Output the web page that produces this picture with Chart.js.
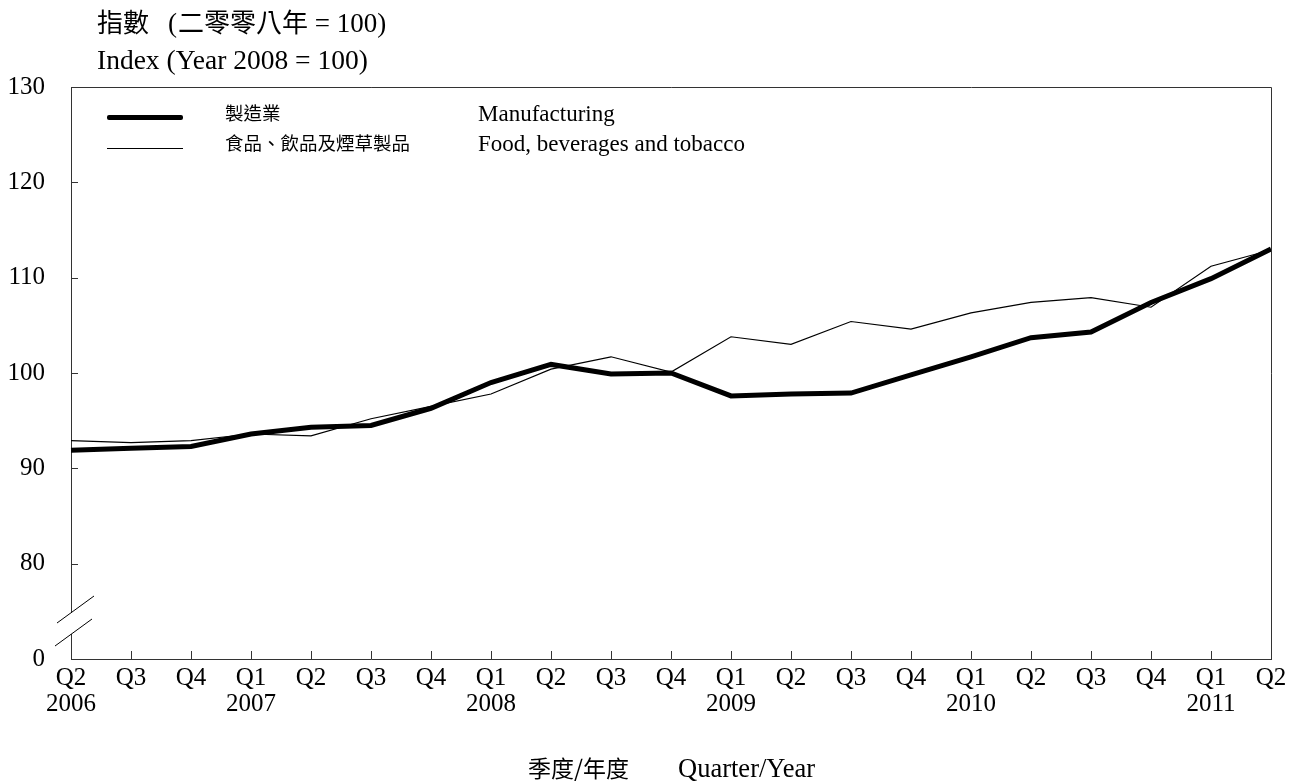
<!DOCTYPE html>
<html>
<head>
<meta charset="utf-8">
<script src="https://cdn.jsdelivr.net/npm/chart.js@4.4.1/dist/chart.umd.min.js"></script>
<style>
  html, body { margin: 0; padding: 0; background: #fff; }
  #wrap { position: relative; width: 1299px; height: 783px; }
  canvas { position: absolute; left: 0; top: 0; }
  .t { position: absolute; white-space: nowrap; color: #000; line-height: 1; }
  .serif { font-family: "Liberation Serif", "DejaVu Serif", serif; }
  .cjk { font-family: "Noto Sans CJK TC", "Noto Sans CJK SC", sans-serif; }
  .swatch { position: absolute; background: #000; }
</style>
</head>
<body>
<div id="wrap">
  <canvas id="chart" width="1299" height="783"></canvas>
  <div class="t" style="left:97px; top:8px; font-size:27px;"><span class="cjk" style="font-size:26px;">指數</span><span class="serif" style="margin-left:19px;">(</span><span class="cjk" style="font-size:26px; margin-left:1px;">二零零八年</span><span class="serif"> = 100)</span></div>
  <div class="t serif" style="left:97px; top:46px; font-size:27.5px;">Index (Year 2008 = 100)</div>

  <div class="swatch" style="left:107px; top:115px; width:76px; height:5px; border-radius:2px;"></div>
  <div class="swatch" style="left:107px; top:148px; width:76px; height:1px;"></div>
  <div class="t cjk" style="left:225px; top:103px; font-size:18.5px;">製造業</div>
  <div class="t cjk" style="left:225px; top:133px; font-size:18.5px;">食品、飲品及煙草製品</div>
  <div class="t serif" style="left:478px; top:102px; font-size:23px;">Manufacturing</div>
  <div class="t serif" style="left:478px; top:132px; font-size:23px;">Food, beverages and tobacco</div>

  <div class="t" style="left:528px; top:755px; font-size:26.5px;"><span class="cjk" style="font-size:23px;">季度/年度</span><span class="serif" style="margin-left:49px;">Quarter/Year</span></div>
</div>
<script>
// quarters Q2 2006 .. Q2 2011
const quarters = ['Q2','Q3','Q4','Q1','Q2','Q3','Q4','Q1','Q2','Q3','Q4','Q1','Q2','Q3','Q4','Q1','Q2','Q3','Q4','Q1','Q2'];
const years    = ['2006','','','2007','','','','2008','','','','2009','','','','2010','','','','2011',''];

const manufacturing = [91.9, 92.1, 92.3, 93.6, 94.3, 94.5, 96.3, 99.0, 100.9, 99.9, 100.0,
                       97.6, 97.8, 97.9, 99.8, 101.7, 103.7, 104.3, 107.4, 109.9, 113.0];
const foodBevTobacco = [92.9, 92.7, 92.9, 93.6, 93.4, 95.2, 96.5, 97.8, 100.4, 101.7, 100.1,
                        103.8, 103.0, 105.4, 104.6, 106.3, 107.4, 107.9, 106.9, 111.2, 112.9];

const yMin = 70, yMax = 130, yStep = 10;

const labels = quarters.map((q, i) => years[i] ? [q, years[i]] : q);

const axisColor = '#333';

// frame, inward tick marks and the y-axis break
const decorations = {
  id: 'decorations',
  afterDraw(chart) {
    const { ctx, chartArea: a, scales: { x, y } } = chart;
    ctx.save();
    ctx.strokeStyle = axisColor;
    ctx.lineWidth = 1;
    // top and right frame
    ctx.beginPath();
    ctx.moveTo(a.left, a.top + 0.5);
    ctx.lineTo(a.right + 0.5, a.top + 0.5);
    ctx.lineTo(a.right + 0.5, a.bottom);
    ctx.stroke();
    // y tick marks inward
    ctx.beginPath();
    for (let v = yMin + yStep; v < yMax; v += yStep) {
      const py = Math.round(y.getPixelForValue(v)) + 0.5;
      ctx.moveTo(a.left, py);
      ctx.lineTo(a.left + 7, py);
    }
    // x tick marks inward
    for (let i = 1; i < labels.length; i++) {
      const px = Math.round(x.getPixelForValue(i)) + 0.5;
      ctx.moveTo(px, a.bottom);
      ctx.lineTo(px, a.bottom - 8);
    }
    ctx.stroke();
    // axis break
    const base = y.getPixelForValue(yMin);
    ctx.fillStyle = '#fff';
    ctx.fillRect(a.left - 2, base - 46, 4, 21);
    ctx.strokeStyle = '#000';
    ctx.beginPath();
    ctx.moveTo(a.left - 14, base - 36);
    ctx.lineTo(a.left + 23, base - 63);
    ctx.moveTo(a.left - 16, base - 13);
    ctx.lineTo(a.left + 21, base - 40);
    ctx.stroke();
    ctx.restore();
  }
};

new Chart(document.getElementById('chart'), {
  type: 'line',
  data: {
    labels: labels,
    datasets: [
      {
        label: 'Manufacturing',
        data: manufacturing,
        borderColor: '#000',
        borderWidth: 5,
        pointRadius: 0,
        tension: 0,
        fill: false
      },
      {
        label: 'Food, beverages and tobacco',
        data: foodBevTobacco,
        borderColor: '#000',
        borderWidth: 1.2,
        pointRadius: 0,
        tension: 0,
        fill: false
      }
    ]
  },
  options: {
    responsive: false,
    animation: false,
    devicePixelRatio: 1,
    layout: { padding: { left: 0, top: 87, right: 28, bottom: 0 } },
    plugins: {
      legend: { display: false },
      tooltip: { enabled: false }
    },
    scales: {
      x: {
        offset: false,
        grid: { display: false, drawTicks: false },
        border: { display: true, color: axisColor, width: 1 },
        ticks: {
          color: '#000',
          autoSkip: false,
          maxRotation: 0,
          padding: 6,
          font: { family: '"Liberation Serif", serif', size: 25, lineHeight: 1.05 }
        },
        afterFit(scale) { scale.height = 124; }
      },
      y: {
        min: yMin,
        max: yMax,
        grid: { display: false, drawTicks: false },
        border: { display: true, color: axisColor, width: 1 },
        ticks: {
          stepSize: yStep,
          color: '#000',
          padding: 26,
          font: { family: '"Liberation Serif", serif', size: 25 },
          callback: (v) => v === yMin ? '0' : v
        },
        afterFit(scale) { scale.width = 71; }
      }
    }
  },
  plugins: [decorations]
});
</script>
</body>
</html>
